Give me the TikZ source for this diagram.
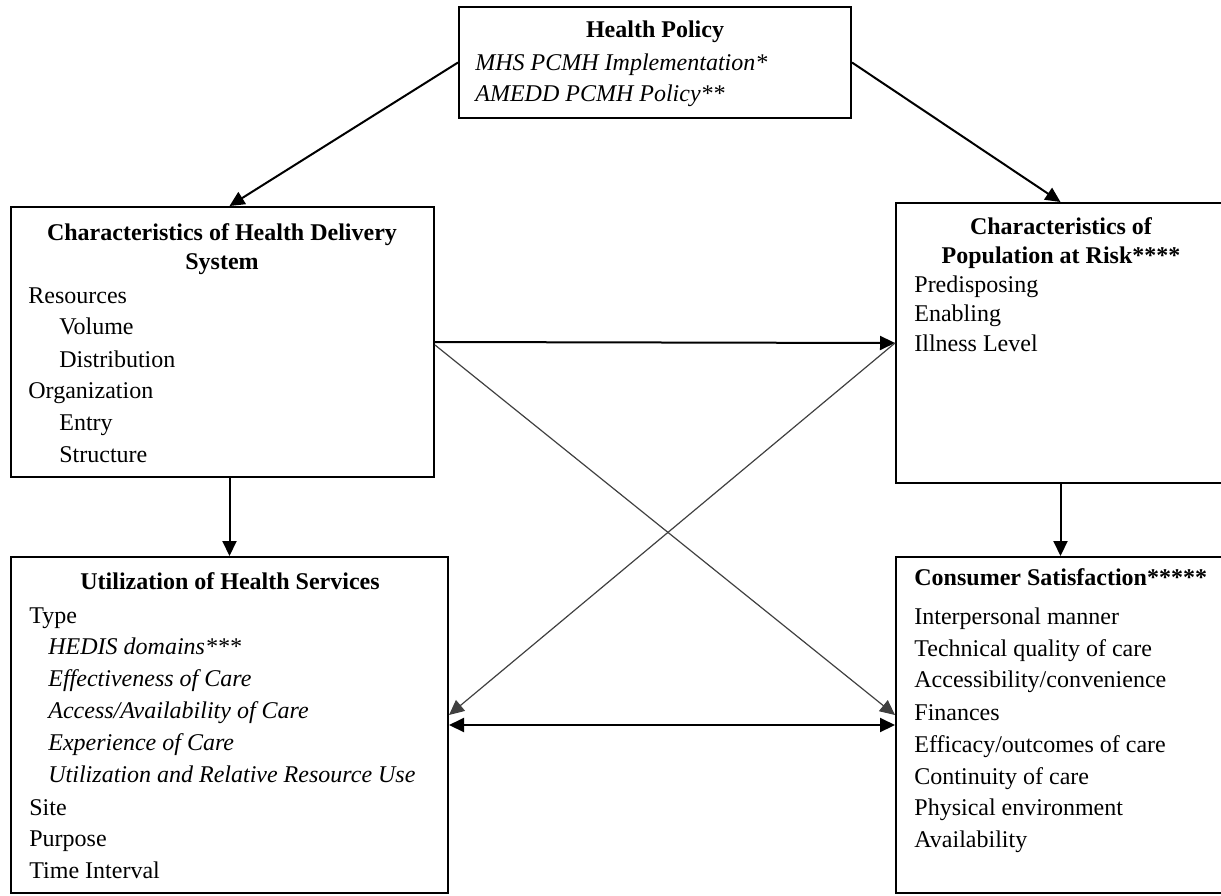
\documentclass[tikz,border=0pt]{standalone}
\usepackage{fontspec}
\setmainfont{Liberation Serif}
\usetikzlibrary{arrows.meta, positioning, calc}

\begin{document}
\begin{tikzpicture}[
    x=0.5pt, y=-0.5pt,
    every node/.style={font=\fontsize{12}{16}\selectfont, inner sep=0pt},
    box/.style={draw, line width=1pt},
    hd/.style={anchor=base, font=\fontsize{12}{16}\selectfont\bfseries},
    itm/.style={anchor=base west},
    htip/.tip={Triangle[length=7.5pt, width=7pt]},
    arr/.style={-htip, line width=1pt},
    xarr/.style={-htip, line width=0.6pt, black!75},
]
\useasboundingbox (0,0) rectangle (1221,895);
\clip (0,0) rectangle (1221,895);
% === Boxes ===
\node[box, minimum width=196pt, minimum height=55.5pt] (hp) at (655, 62.5) {};
\node[box, minimum width=211.5pt, minimum height=135pt] (chds) at (222.5, 342) {};
\node[box, minimum width=164.5pt, minimum height=140pt] (pop) at (1060.5, 343) {};
\node[box, minimum width=218.5pt, minimum height=168pt] (util) at (229.5, 725) {};
\node[box, minimum width=164.5pt, minimum height=168pt] (cons) at (1060.5, 725) {};
% === Health Policy ===
\node[hd] (hpt) at (655, 37) {Health Policy};
\node[itm] (hp1) at (475, 70) {\textit{MHS PCMH Implementation*}};
\node[itm] (hp2) at (475, 101) {\textit{AMEDD PCMH Policy**}};
% === Health delivery system ===
\node[hd] (chdst1) at (222, 240) {Characteristics of Health Delivery};
\node[hd] (chdst2) at (222, 269) {System};
\foreach \i/\x/\y/\t in {1/28/303/Resources, 2/59/334/Volume, 3/59/367/Distribution,
                          4/28/398/Organization, 5/59/430/Entry, 6/59/462/Structure} {
    \node[itm] (c\i) at (\x, \y) {\t};
}
% === Population at risk ===
\node[hd] (popt1) at (1061, 234) {Characteristics of};
\node[hd] (popt2) at (1061, 263) {Population at Risk****};
\foreach \i/\y/\t in {1/292/Predisposing, 2/321/Enabling, 3/351/Illness Level} {
    \node[itm] (p\i) at (914, \y) {\t};
}
% === Utilization ===
\node[hd] (utilt) at (230, 589) {Utilization of Health Services};
\foreach \i/\x/\y/\t in {1/29/623/Type, 2/48/654/{\textit{HEDIS domains***}},
                          3/48/686/{\textit{Effectiveness of Care}},
                          4/48/718/{\textit{Access/Availability of Care}},
                          5/48/750/{\textit{Experience of Care}},
                          6/48/782/{\textit{Utilization and Relative Resource Use}},
                          7/29/815/Site, 8/29/846/Purpose, 9/29/878/Time Interval} {
    \node[itm] (u\i) at (\x, \y) {\t};
}
% === Consumer satisfaction ===
\node[itm, font=\fontsize{12}{16}\selectfont\bfseries] (const) at (914, 585) {Consumer Satisfaction*****};
\foreach \i/\y/\t in {1/624/Interpersonal manner, 2/656/Technical quality of care,
                      3/687/{Accessibility/convenience}, 4/720/Finances,
                      5/752/{Efficacy/outcomes of care}, 6/784/Continuity of care,
                      7/815/Physical environment, 8/847/Availability} {
    \node[itm] (s\i) at (914, \y) {\t};
}
% === Connectors ===
\draw[arr] (hp.west) -- (chds.north -| util.north);
\draw[arr] (hp.east) -- (pop.north);
\draw[arr] (chds.south -| util.north) -- (util.north);
\draw[arr] (pop.south) -- (cons.north);
\draw[arr] (chds.east) -- (pop.west);
\draw[xarr] ($(chds.east)+(0,3)$) -- ($(cons.west)+(0,-10)$);
\draw[xarr] (pop.west) -- ($(util.east)+(0,-10)$);
\draw[arr, htip-htip] (util.east) -- (cons.west);
\end{tikzpicture}
\end{document}
